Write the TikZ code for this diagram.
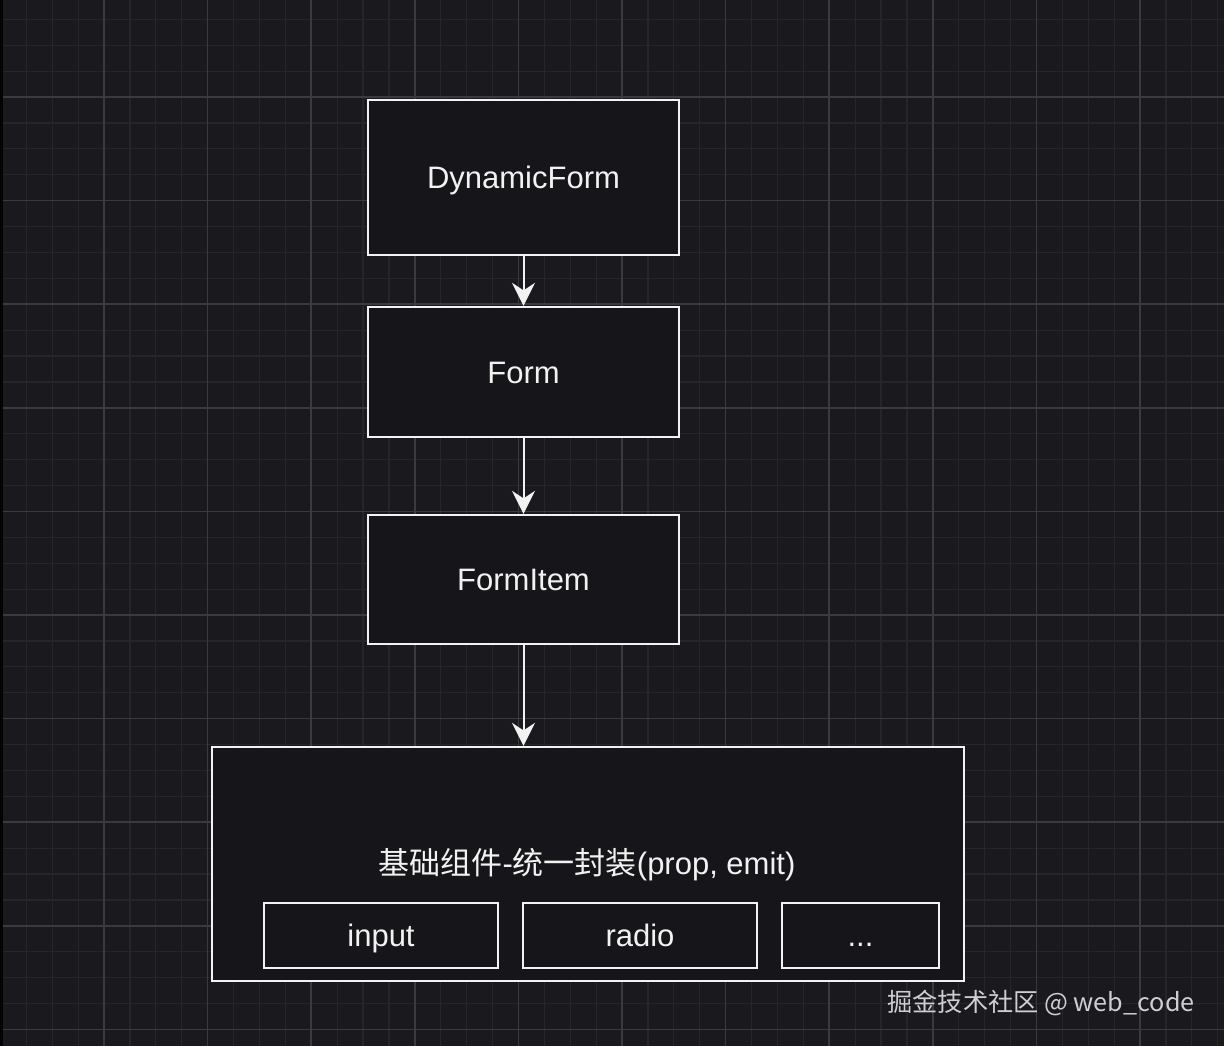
\documentclass[tikz,border=0pt]{standalone}
\usepackage{fontspec}
\setmainfont{Liberation Sans}
\newfontfamily\cjk{Noto Sans CJK SC}
\usetikzlibrary{arrows.meta}
\definecolor{bgc}{HTML}{1A191E}
\definecolor{minorc}{HTML}{26252A}
\definecolor{majorc}{HTML}{3B3A40}
\definecolor{boxfill}{HTML}{161519}
\definecolor{linec}{HTML}{F2F2F2}
\definecolor{wmc}{HTML}{CFCFD2}
\tikzset{
  minorline/.style={draw=minorc, line width=0.6pt},
  majorline/.style={draw=majorc, line width=0.8pt},
  boxnode/.style={draw=linec, fill=boxfill, line width=1.2pt, inner sep=0pt,
    text=linec, font=\fontsize{15.5}{18}\selectfont, align=center,
    text height=14.3pt, text depth=3.2pt},
  flowarrow/.style={draw=linec, line width=1pt,
    -{Stealth[length=11.5pt,width=11.5pt,inset=3.8pt]}},
  plainlabel/.style={text=linec, inner sep=0pt, font=\fontsize{15.5}{18}\selectfont}
}
\begin{document}
\begin{tikzpicture}[x=0.5pt,y=-0.5pt]
\useasboundingbox (0,0) rectangle (1224,1046);
\fill[bgc] (0,0) rectangle (1224,1046);
% grid
\foreach \k in {0,...,47} {
  \draw[minorline] ({0.4+\k*25.9},0) -- ({0.4+\k*25.9},1046);
}
\foreach \k in {0,...,41} {
  \draw[minorline] (0,{-6.6+\k*25.9}) -- (1224,{-6.6+\k*25.9});
}
\foreach \k in {0,...,11} {
  \draw[majorline] ({0.4+\k*103.6},0) -- ({0.4+\k*103.6},1046);
}
\foreach \k in {0,...,10} {
  \draw[majorline] (0,{-6.6+\k*103.6}) -- (1224,{-6.6+\k*103.6});
}
\fill[black!90!bgc] (0,0) rectangle (3,1046);

% nodes
\node[boxnode, minimum width=155.5pt, minimum height=77.5pt] (dyn) at (523.5,177.5) {DynamicForm};
\node[boxnode, minimum width=155.5pt, minimum height=65pt] (form) at (523.5,372) {Form};
\node[boxnode, minimum width=155.5pt, minimum height=64.5pt] (item) at (523.5,579.5) {FormItem};
\node[boxnode, minimum width=376pt, minimum height=117pt] (base) at (588,864) {};
\node[plainlabel] (lbl) at (587,864.5) {{\cjk 基础组件}-{\cjk 统一封装}(prop, emit)};
\node[boxnode, minimum width=117pt, minimum height=32.5pt] (inp) at (381,935.5) {input};
\node[boxnode, minimum width=117pt, minimum height=32.5pt] (rad) at (640,935.5) {radio};
\node[boxnode, minimum width=78.5pt, minimum height=32.5pt] (dots) at (860.5,935.5) {...};

% connectors
\draw[flowarrow] (dyn.south) -- (form.north);
\draw[flowarrow] (form.south) -- (item.north);
\draw[flowarrow] (item.south) -- (item.south |- base.north);

% watermark
\node[anchor=west, inner sep=0pt, text=wmc, font=\cjk\fontsize{12.6}{14}\selectfont] (wm) at (887,1003) {掘金技术社区 @ web\_code};
\end{tikzpicture}
\end{document}
